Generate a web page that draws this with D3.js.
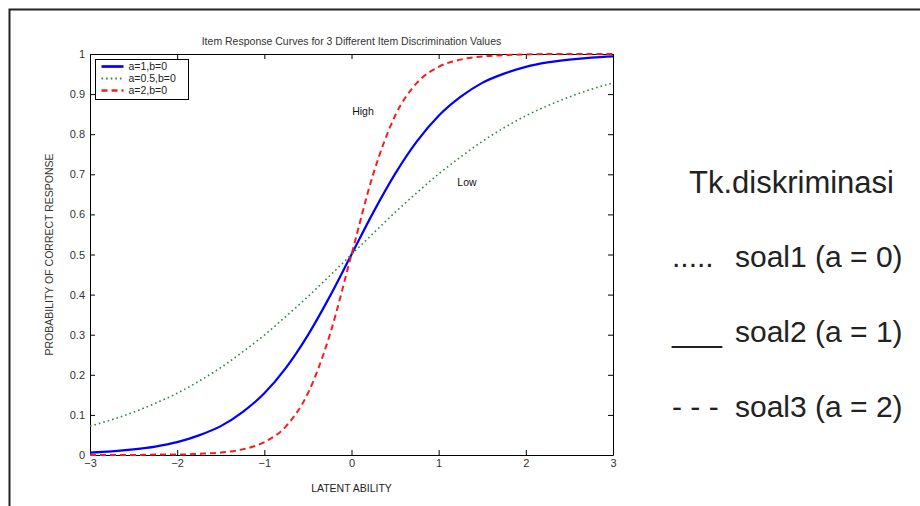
<!DOCTYPE html>
<html>
<head>
<meta charset="utf-8">
<script src="https://cdn.jsdelivr.net/npm/d3@7"></script>
<style>
  body { margin: 0; background: #fff; }
  svg { display: block; font-family: "Liberation Sans", Arial, sans-serif; }
  .axis text { fill: #333; font-size: 11px; }
  .axis path, .axis line { stroke: #000; }
</style>
</head>
<body>
<div id="chart"></div>
<script>
// latent ability grid, every 0.25
const ability = [-3, -2.75, -2.5, -2.25, -2, -1.75, -1.5, -1.25, -1, -0.75, -0.5, -0.25,
  0, 0.25, 0.5, 0.75, 1, 1.25, 1.5, 1.75, 2, 2.25, 2.5, 2.75, 3];

// a=1, b=0 (blue solid)
const probA1 = [0.006, 0.009, 0.014, 0.021, 0.032, 0.049, 0.072, 0.107, 0.154, 0.218, 0.299, 0.395,
  0.5, 0.605, 0.701, 0.782, 0.846, 0.893, 0.928, 0.951, 0.968, 0.979, 0.986, 0.991, 0.994];

// a=0.5, b=0 (green dotted)
const probA05 = [0.072, 0.088, 0.107, 0.129, 0.154, 0.184, 0.218, 0.257, 0.299, 0.346, 0.395, 0.447,
  0.5, 0.553, 0.605, 0.654, 0.701, 0.743, 0.782, 0.816, 0.846, 0.871, 0.893, 0.912, 0.928];

// a=2, b=0 (red dashed)
const probA2 = [0.000, 0.000, 0.000, 0.001, 0.001, 0.003, 0.006, 0.014, 0.032, 0.072, 0.154, 0.299,
  0.5, 0.701, 0.846, 0.928, 0.968, 0.986, 0.994, 0.997, 0.999, 1.0, 1.0, 1.0, 1.0];

const xTicks = [-3, -2, -1, 0, 1, 2, 3];
const yTicks = [0, 0.1, 0.2, 0.3, 0.4, 0.5, 0.6, 0.7, 0.8, 0.9, 1];

const series = [
  { label: 'a=1,b=0', values: probA1, color: '#0000ff', width: 2.2, dash: null },
  { label: 'a=0.5,b=0', values: probA05, color: '#2e8b3a', width: 1.6, dash: '1.6,3' },
  { label: 'a=2,b=0', values: probA2, color: '#ff1a1a', width: 2, dash: '6,4' }
];

// right-hand annotation: line marker + label
const notes = [
  { mark: '.....', text: 'soal1 (a = 0)', y: 267 },
  { mark: '___', text: 'soal2 (a = 1)', y: 342 },
  { mark: '- - -', text: 'soal3 (a = 2)', y: 417 }
];

const width = 920, height = 506;
const plot = { left: 90, right: 613, top: 54, bottom: 455 };

const svg = d3.select('#chart').append('svg')
  .attr('width', width)
  .attr('height', height);

svg.append('rect').attr('width', width).attr('height', height).attr('fill', '#fff');

// page frame (left + top only)
svg.append('path')
  .attr('d', `M9.5,${height} V9.5 H${width}`)
  .attr('fill', 'none')
  .attr('stroke', '#222')
  .attr('stroke-width', 2);

const x = d3.scaleLinear().domain([-3, 3]).range([plot.left, plot.right]);
const y = d3.scaleLinear().domain([0, 1]).range([plot.bottom, plot.top]);

// axes, matlab style ticks pointing inwards
svg.append('g').attr('class', 'axis')
  .attr('transform', `translate(0,${plot.bottom})`)
  .call(d3.axisBottom(x).tickValues(xTicks).tickSize(-5).tickSizeOuter(0).tickPadding(4)
    .tickFormat(d => d < 0 ? '\u2212' + Math.abs(d) : d));

svg.append('g').attr('class', 'axis')
  .attr('transform', `translate(0,${plot.top})`)
  .call(d3.axisTop(x).tickValues(xTicks).tickSize(-5).tickSizeOuter(0).tickFormat(''));

svg.append('g').attr('class', 'axis')
  .attr('transform', `translate(${plot.left},0)`)
  .call(d3.axisLeft(y).tickValues(yTicks).tickSize(-5).tickSizeOuter(0).tickPadding(5)
    .tickFormat(d3.format('')));

svg.append('g').attr('class', 'axis')
  .attr('transform', `translate(${plot.right},0)`)
  .call(d3.axisRight(y).tickValues(yTicks).tickSize(-5).tickSizeOuter(0).tickFormat(''));

// curves
const line = d3.line()
  .x((d, i) => x(ability[i]))
  .y(d => y(d))
  .curve(d3.curveMonotoneX);

svg.append('g').selectAll('path.curve')
  .data(series)
  .enter()
  .append('path')
  .attr('class', 'curve')
  .attr('d', d => line(d.values))
  .attr('fill', 'none')
  .attr('stroke', d => d.color)
  .attr('stroke-width', d => d.width)
  .attr('stroke-dasharray', d => d.dash);

// titles
svg.append('text')
  .attr('x', (plot.left + plot.right) / 2).attr('y', 45)
  .attr('text-anchor', 'middle')
  .attr('font-size', 10.5).attr('fill', '#333')
  .text('Item Response Curves for 3 Different Item Discrimination Values');

svg.append('text')
  .attr('x', (plot.left + plot.right) / 2).attr('y', 492)
  .attr('text-anchor', 'middle')
  .attr('font-size', 10.5).attr('fill', '#222')
  .text('LATENT ABILITY');

svg.append('text')
  .attr('transform', `translate(53,${(plot.top + plot.bottom) / 2}) rotate(-90)`)
  .attr('text-anchor', 'middle')
  .attr('font-size', 10.5).attr('fill', '#333')
  .text('PROBABILITY OF CORRECT RESPONSE');

svg.append('text').attr('x', 363).attr('y', 115).attr('text-anchor', 'middle')
  .attr('font-size', 10.5).attr('fill', '#111').text('High');
svg.append('text').attr('x', 467).attr('y', 186).attr('text-anchor', 'middle')
  .attr('font-size', 10.5).attr('fill', '#111').text('Low');

// legend
const legend = svg.append('g').attr('transform', 'translate(95.5,59.5)');
legend.append('rect')
  .attr('width', 93).attr('height', 40)
  .attr('fill', '#fff').attr('stroke', '#000');

const items = legend.selectAll('g.item')
  .data(series)
  .enter()
  .append('g')
  .attr('class', 'item')
  .attr('transform', (d, i) => `translate(0,${7 + i * 12})`);

items.append('line')
  .attr('x1', 6).attr('x2', 28)
  .attr('stroke', d => d.color)
  .attr('stroke-width', d => d.width + 0.5)
  .attr('stroke-dasharray', d => d.dash);

items.append('text')
  .attr('x', 33).attr('dy', '0.35em')
  .attr('font-size', 10.5).attr('fill', '#222')
  .text(d => d.label);

// annotation on the right
svg.append('text')
  .attr('x', 689).attr('y', 193)
  .attr('font-size', 31).attr('fill', '#222')
  .text('Tk.diskriminasi');

const noteRows = svg.selectAll('g.note')
  .data(notes)
  .enter()
  .append('g')
  .attr('class', 'note')
  .attr('transform', d => `translate(0,${d.y})`);

noteRows.append('text')
  .attr('x', 672)
  .attr('font-size', 30).attr('fill', '#222')
  .text(d => d.mark);

noteRows.append('text')
  .attr('x', 735)
  .attr('font-size', 30).attr('fill', '#222')
  .style('white-space', 'pre')
  .text(d => d.text);
</script>
</body>
</html>
